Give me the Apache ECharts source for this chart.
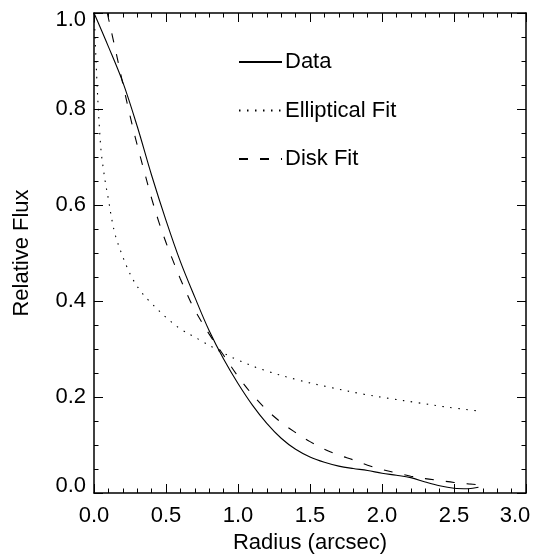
<!DOCTYPE html>
<html>
<head>
<meta charset="utf-8">
<script src="https://cdn.jsdelivr.net/npm/echarts@6/dist/echarts.min.js"></script>
<style>
  html, body { margin: 0; padding: 0; background: #fff; }
  #chart { width: 545px; height: 556px; }
</style>
</head>
<body>
<div id="chart"></div>
<script>
"use strict";
var FONT = '"Liberation Sans", Arial, Helvetica, sans-serif';

// radial profile
var dataRadius = [0, 0.1, 0.2, 0.3, 0.4, 0.5, 0.6, 0.7, 0.8, 0.9, 1.0, 1.1, 1.2, 1.3, 1.4, 1.5, 1.6, 1.7, 1.8, 1.9, 2.0, 2.1, 2.2, 2.3, 2.4, 2.5, 2.6, 2.67];
var dataFlux = [1.0, 0.93, 0.856, 0.764, 0.662, 0.568, 0.482, 0.408, 0.338, 0.279, 0.228, 0.183, 0.145, 0.114, 0.091, 0.075, 0.064, 0.056, 0.051, 0.047, 0.041, 0.037, 0.032, 0.023, 0.015, 0.01, 0.009, 0.012];

var ellRadius = [0, 0.005, 0.01, 0.02, 0.03, 0.04, 0.05, 0.065, 0.08, 0.1, 0.125, 0.15, 0.19, 0.23, 0.27, 0.33, 0.4, 0.5, 0.6, 0.74, 0.87, 1.0, 1.18, 1.41, 1.64, 1.87, 2.05, 2.25, 2.45, 2.67];
var ellFlux = [1.0, 0.97, 0.93, 0.86, 0.8, 0.75, 0.71, 0.675, 0.645, 0.612, 0.568, 0.535, 0.5, 0.47, 0.445, 0.418, 0.395, 0.366, 0.342, 0.318, 0.296, 0.277, 0.256, 0.236, 0.22, 0.206, 0.197, 0.188, 0.179, 0.171];

var diskRadius = [0.092, 0.15, 0.2, 0.25, 0.3, 0.35, 0.4, 0.45, 0.5, 0.55, 0.6, 0.65, 0.7, 0.8, 0.9, 1.0, 1.1, 1.2, 1.3, 1.4, 1.5, 1.6, 1.7, 1.8, 1.9, 2.0, 2.1, 2.2, 2.3, 2.4, 2.5, 2.6, 2.68];
var diskFlux = [1.0, 0.922, 0.853, 0.786, 0.725, 0.669, 0.614, 0.565, 0.522, 0.483, 0.446, 0.412, 0.381, 0.331, 0.287, 0.243, 0.205, 0.173, 0.147, 0.126, 0.107, 0.091, 0.079, 0.069, 0.058, 0.049, 0.042, 0.035, 0.03, 0.026, 0.022, 0.019, 0.017];

var seriesNames = ['Data', 'Elliptical Fit', 'Disk Fit'];

function zip(xs, ys) {
    var out = [];
    for (var i = 0; i < xs.length; i++)
        out.push([xs[i], ys[i]]);
    return out;
}

function boxAxis(pos, min, max, step, minorSplit, showLabels) {
    return {
        type: 'value',
        position: pos,
        min: min,
        max: max,
        interval: step,
        axisLine: { show: true, onZero: false, lineStyle: { color: '#000', width: 1.5 } },
        axisTick: { show: true, inside: true, length: 9, lineStyle: { color: '#000', width: 1 } },
        minorTick: { show: true, splitNumber: minorSplit, length: 4.5, lineStyle: { color: '#000', width: 1 } },
        splitLine: { show: false },
        axisLabel: {
            show: showLabels,
            color: '#000',
            fontFamily: FONT,
            fontSize: 22,
            formatter: function (v) { return v.toFixed(1); }
        }
    };
}

// end labels are nudged inward, like the original plot
var xBottom = boxAxis('bottom', 0, 3, 0.5, 5, true);
xBottom.axisLabel.margin = 12;
xBottom.axisLabel.formatter = function (v) {
    return v === 3 ? '{last|' + v.toFixed(1) + '}' : v.toFixed(1);
};
xBottom.axisLabel.rich = { last: { fontFamily: FONT, fontSize: 22, color: '#000', padding: [0, 22, 0, 0] } };
xBottom.name = 'Radius (arcsec)';
xBottom.nameLocation = 'middle';
xBottom.nameGap = 39;
xBottom.nameTextStyle = { color: '#000', fontFamily: FONT, fontSize: 22 };
var xTop = boxAxis('top', 0, 3, 0.5, 5, false);

var yLeft = boxAxis('left', 0, 1, 0.2, 4, true);
yLeft.axisLabel.margin = 8;
yLeft.axisLabel.formatter = function (v) {
    if (v === 0) return '{lo|0.0}';
    if (v === 1) return '{hi|1.0}';
    return v.toFixed(1);
};
yLeft.axisLabel.rich = {
    lo: { fontFamily: FONT, fontSize: 22, color: '#000', padding: [0, 0, 14, 0] },
    hi: { fontFamily: FONT, fontSize: 22, color: '#000', padding: [14, 0, 0, 0] }
};
yLeft.name = 'Relative Flux';
yLeft.nameLocation = 'middle';
yLeft.nameGap = 61;
yLeft.nameTextStyle = { color: '#000', fontFamily: FONT, fontSize: 22 };
var yRight = boxAxis('right', 0, 1, 0.2, 4, false);

function lineSeries(name, pts, dash) {
    return {
        name: name,
        type: 'line',
        xAxisIndex: 0,
        yAxisIndex: 0,
        data: pts,
        symbol: 'none',
        smooth: 0.35,
        clip: true,
        itemStyle: { color: '#000' },
        lineStyle: { color: '#000', width: 1.1, type: dash }
    };
}

var chart = echarts.init(document.getElementById('chart'), null, { renderer: 'canvas' });
chart.setOption({
    animation: false,
    backgroundColor: '#fff',
    grid: { left: 94, right: 19, top: 13, bottom: 63, outerBoundsMode: 'none' },
    legend: {
        data: seriesNames,
        orient: 'vertical',
        left: 238,
        top: 51,
        padding: 0,
        itemWidth: 43,
        itemHeight: 14,
        itemGap: 26.5,
        itemStyle: { opacity: 0 },
        textStyle: { color: '#000', fontFamily: FONT, fontSize: 22, lineHeight: 22, padding: [0, 0, 0, -2] }
    },
    xAxis: [xBottom, xTop],
    yAxis: [yLeft, yRight],
    series: [
        lineSeries(seriesNames[0], zip(dataRadius, dataFlux), 'solid'),
        lineSeries(seriesNames[1], zip(ellRadius, ellFlux), [1.5, 6.5]),
        lineSeries(seriesNames[2], zip(diskRadius, diskFlux), [9, 12])
    ]
});
</script>
</body>
</html>
